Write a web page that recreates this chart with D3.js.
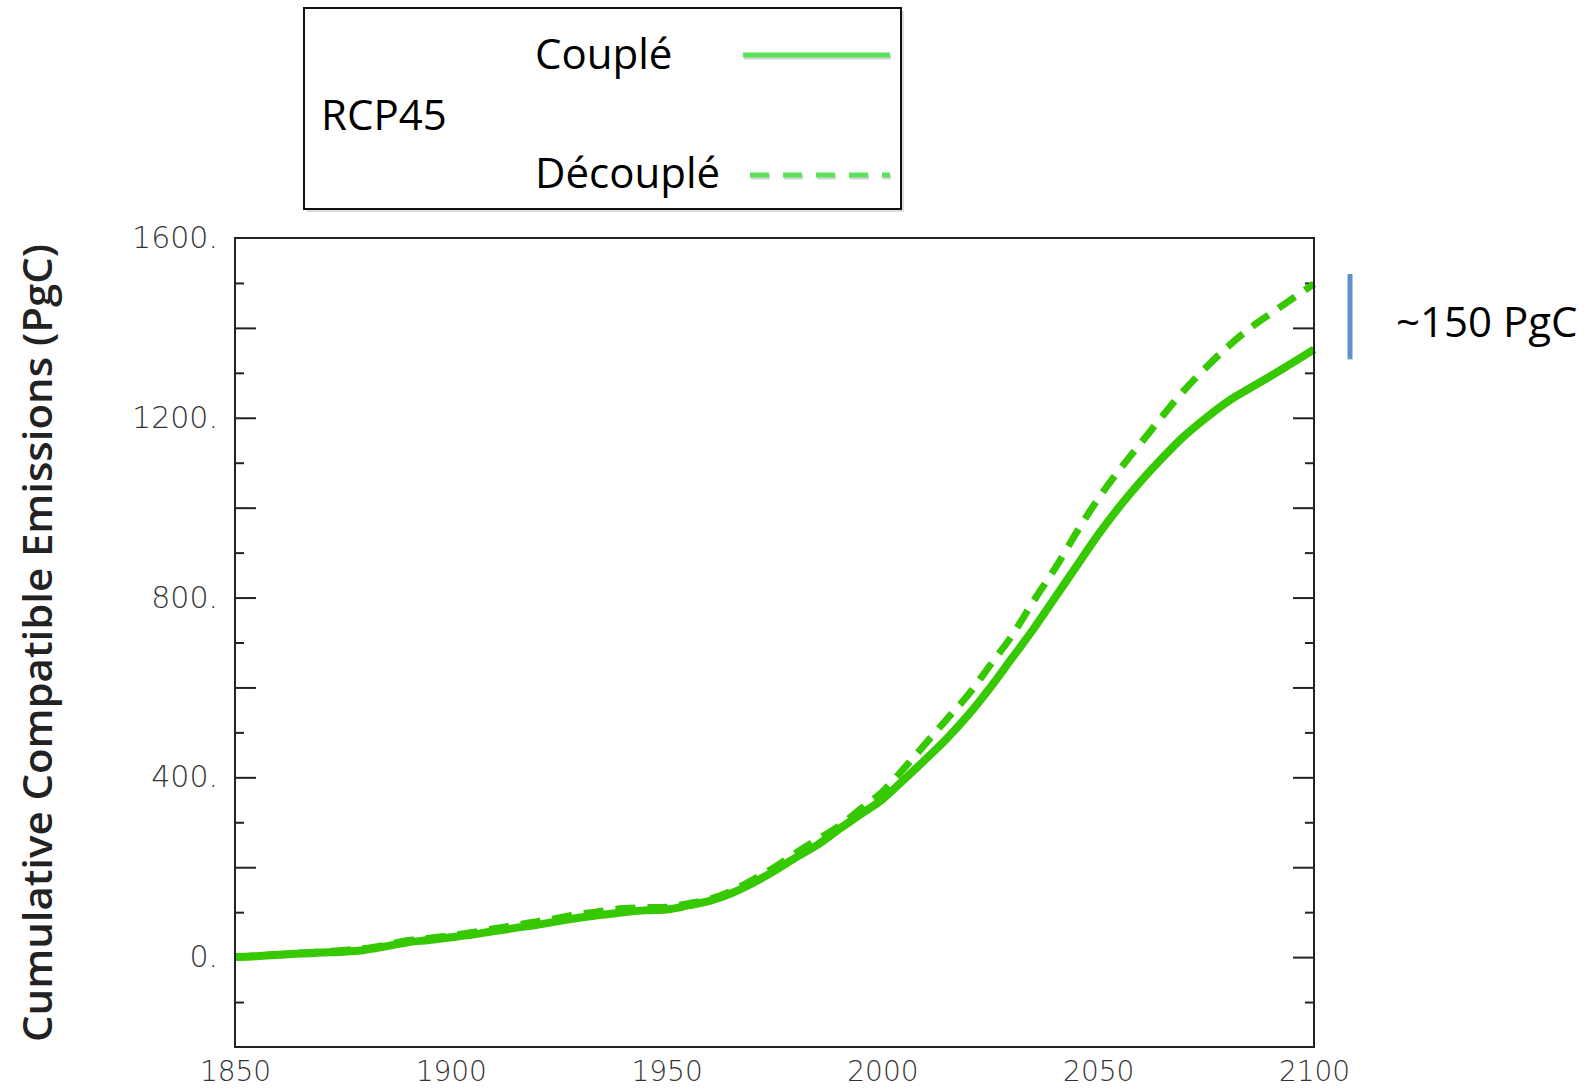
<!DOCTYPE html>
<html>
<head>
<meta charset="utf-8">
<script src="https://cdn.jsdelivr.net/npm/d3@7"></script>
<style>
  body { margin: 0; background: #fff; }
  svg { display: block; }
</style>
</head>
<body>
<svg id="chart" width="1594" height="1089"></svg>
<script>
// values (PgC, cumulative)
var years = [1850, 1855, 1860, 1865, 1870, 1875, 1880, 1885, 1890, 1895,
  1900, 1905, 1910, 1915, 1920, 1925, 1930, 1935, 1940, 1945,
  1950, 1955, 1960, 1965, 1970, 1975, 1980, 1985, 1990, 1995,
  2000, 2005, 2010, 2015, 2020, 2025, 2030, 2035, 2040, 2045,
  2050, 2055, 2060, 2065, 2070, 2075, 2080, 2085, 2090, 2095, 2100];

var couple = [0, 2, 5, 8, 10, 12, 16, 24, 33, 38,
  44, 50, 58, 65, 72, 80, 88, 94, 100, 104,
  106, 115, 125, 142, 165, 192, 222, 250, 285, 318,
  351, 395, 440, 487, 540, 600, 665, 730, 800, 870,
  940, 1003, 1060, 1112, 1160, 1200, 1236, 1265, 1293, 1322, 1352];

var decouple = [0, 3, 6, 9, 12, 15, 19, 27, 37, 42,
  48, 55, 63, 71, 79, 87, 96, 102, 108, 110,
  111, 119, 129, 147, 172, 200, 232, 262, 292, 330,
  368, 420, 475, 530, 585, 650, 715, 792, 865, 945,
  1020, 1085, 1145, 1205, 1262, 1312, 1358, 1398, 1432, 1465, 1498];

var yLabels = [0, 400, 800, 1200, 1600];
var xLabels = [1850, 1900, 1950, 2000, 2050, 2100];

var green = "#36c800";
var legendGreen = "#5ce35c";

var svg = d3.select("#chart");
var x0 = 235, x1 = 1314, yTop = 238, yBot = 1047;

var x = d3.scaleLinear().domain([1850, 2100]).range([x0, x1]);
var y = d3.scaleLinear().domain([-200, 1600]).range([yBot, yTop]);

var major = d3.range(0, 1401, 200);
var minor = d3.range(-100, 1501, 200);

// ticks pointing inwards, both sides
function ticks(axis, vals, size, tx) {
  svg.append("g")
    .attr("transform", "translate(" + tx + ",0)")
    .call(axis(y).tickValues(vals).tickSize(size).tickFormat(""))
    .call(function(g) {
      g.select(".domain").remove();
      g.selectAll("line").attr("stroke", "#222").attr("stroke-width", 2);
    });
}
ticks(d3.axisRight, major, 21, x0);
ticks(d3.axisRight, minor, 9, x0);
ticks(d3.axisLeft, major, 21, x1);
ticks(d3.axisLeft, minor, 9, x1);

// y labels
svg.append("g")
  .attr("transform", "translate(" + x0 + ",0)")
  .call(d3.axisLeft(y).tickValues(yLabels).tickSize(0).tickPadding(17)
    .tickFormat(function(d) { return d + "."; }))
  .call(function(g) {
    g.select(".domain").remove();
    g.selectAll("text")
      .attr("font-family", "DejaVu Sans")
      .attr("font-weight", 200)
      .attr("font-size", 30)
      .attr("fill", "#333");
  });

// x labels
svg.append("g")
  .attr("transform", "translate(0," + yBot + ")")
  .call(d3.axisBottom(x).tickValues(xLabels).tickSize(0).tickPadding(14)
    .tickFormat(d3.format("d")))
  .call(function(g) {
    g.select(".domain").remove();
    g.selectAll("text")
      .attr("font-family", "DejaVu Sans")
      .attr("font-weight", 200)
      .attr("font-size", 28)
      .attr("fill", "#333");
  });

// lines
var line = d3.line()
  .x(function(d, i) { return x(years[i]); })
  .y(function(d) { return y(d); })
  .curve(d3.curveMonotoneX);

svg.append("path")
  .attr("d", line(decouple))
  .attr("fill", "none")
  .attr("stroke", green)
  .attr("stroke-width", 7)
  .attr("stroke-dasharray", "20,12");

svg.append("path")
  .attr("d", line(couple))
  .attr("fill", "none")
  .attr("stroke", green)
  .attr("stroke-width", 8);

// frame
svg.append("rect")
  .attr("x", x0).attr("y", yTop)
  .attr("width", x1 - x0).attr("height", yBot - yTop)
  .attr("fill", "none")
  .attr("stroke", "#222")
  .attr("stroke-width", 2);

// y title
svg.append("text")
  .attr("transform", "translate(52," + ((244 + 1042) / 2) + ") rotate(-90)")
  .attr("text-anchor", "middle")
  .attr("font-family", "Open Sans")
  .attr("font-weight", 600)
  .attr("font-size", 40)
  .attr("fill", "#222")
  .attr("textLength", 798)
  .attr("lengthAdjust", "spacingAndGlyphs")
  .text("Cumulative Compatible Emissions (PgC)");

// legend
var lg = svg.append("g");
lg.append("rect")
  .attr("x", 307).attr("y", 11)
  .attr("width", 597).attr("height", 201)
  .attr("fill", "#bbb").attr("opacity", 0.5);
lg.append("rect")
  .attr("x", 304).attr("y", 8)
  .attr("width", 597).attr("height", 201)
  .attr("fill", "#fff")
  .attr("stroke", "#111")
  .attr("stroke-width", 2);

function ltext(t, tx, ty) {
  lg.append("text")
    .attr("x", tx).attr("y", ty)
    .attr("font-family", "Open Sans")
    .attr("font-size", 42)
    .attr("fill", "#000")
    .text(t);
}
ltext("Couplé", 535, 69);
ltext("RCP45", 321, 130);
ltext("Découplé", 535, 188);

lg.append("line")
  .attr("x1", 744).attr("x2", 891).attr("y1", 57).attr("y2", 57)
  .attr("stroke", "#aaa").attr("stroke-width", 5).attr("opacity", 0.5);
lg.append("line")
  .attr("x1", 743).attr("x2", 890).attr("y1", 55).attr("y2", 55)
  .attr("stroke", legendGreen).attr("stroke-width", 5);
lg.append("line")
  .attr("x1", 751).attr("x2", 891).attr("y1", 177).attr("y2", 177)
  .attr("stroke", "#aaa").attr("stroke-width", 5).attr("opacity", 0.5)
  .attr("stroke-dasharray", "19,14");
lg.append("line")
  .attr("x1", 750).attr("x2", 890).attr("y1", 175).attr("y2", 175)
  .attr("stroke", legendGreen).attr("stroke-width", 5)
  .attr("stroke-dasharray", "19,14");

// ~150 PgC bracket
svg.append("line")
  .attr("x1", 1350).attr("x2", 1350)
  .attr("y1", y(1520)).attr("y2", y(1330))
  .attr("stroke", "#5f92cc")
  .attr("stroke-width", 5);

svg.append("text")
  .attr("x", 1396).attr("y", 337)
  .attr("font-family", "Open Sans")
  .attr("font-size", 42)
  .attr("fill", "#000")
  .text("~150 PgC");
</script>
</body>
</html>
